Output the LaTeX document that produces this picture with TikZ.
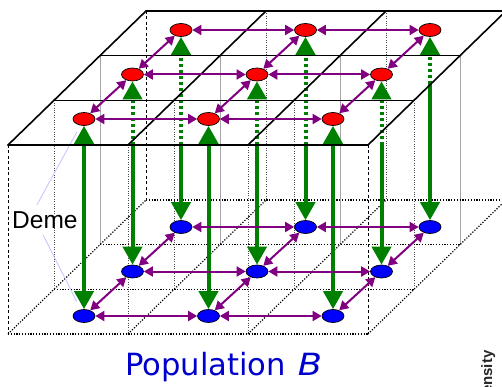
\documentclass[tikz,border=0pt]{standalone}
\usepackage{fontspec}
\usepackage{graphicx}
\setmainfont{DejaVu Sans}
\newfontfamily\demefont{Liberation Sans}
\usetikzlibrary{arrows.meta,shapes.geometric}
\pgfdeclarelayer{back}
\pgfsetlayers{back,main}
\definecolor{gr}{RGB}{0,128,0}
\definecolor{pu}{RGB}{128,0,128}
\definecolor{popblue}{RGB}{0,0,205}
\definecolor{demeline}{RGB}{195,195,255}
\begin{document}
\begin{tikzpicture}[x=1pt,y=-1pt,
 deme/.style={ellipse,draw=black,line width=0.7pt,minimum width=22pt,minimum height=13pt,inner sep=0pt},
 redn/.style={deme,fill=red},
 bluen/.style={deme,fill=blue},
 mig/.style={draw=pu,line width=2pt,>={Triangle[length=9pt,width=10pt]},<->},
 gsolid/.style={draw=gr,line width=4pt,>={Triangle[length=18pt,width=19pt]}},
 gdots/.style={draw=gr,line width=4pt,dash pattern=on 3pt off 3pt,>={Triangle[length=18pt,width=19pt]}},
 topgrid/.style={line width=1.6pt,black,line cap=round},
 botgrid/.style={line width=1.2pt,black,dash pattern=on 1.2pt off 1.6pt},
 vdash/.style={line width=0.8pt,black,dash pattern=on 3pt off 2.5pt},
 vdot/.style={line width=0.7pt,black!70,dash pattern=on 0.8pt off 1.6pt},
 vgray/.style={line width=0.8pt,black!35},
 demelink/.style={draw=demeline,line width=0.8pt},
]
\useasboundingbox (0,0) rectangle (502,387);

% grid corner coordinates
\foreach \r in {0,1,2,3}{
  \foreach \c in {0,1,2,3}{
    \coordinate (T\r\c) at ({8+120*\c+46*\r},{145-44.67*\r});
    \coordinate (B\r\c) at ({8+120*\c+46*\r},{334-44.67*\r});
  }
}
\coordinate (frontedge) at (0,145);
\coordinate (rightexit) at (0,84);

% demes
\foreach \r in {0,1,2}{
  \foreach \c in {0,1,2}{
    \node[redn] (t\r\c) at ({84+124.5*\c+48.5*\r},{119-44.5*\r}) {};
    \node[bluen] (b\r\c) at ({84+124.5*\c+48.5*\r},{316-44.5*\r}) {};
  }
}

% texts
\node[anchor=base west,inner sep=0pt,font=\demefont\fontsize{24.5}{28}\selectfont] (demelabel) at (12,228) {Deme};
\node[anchor=base west,inner sep=0pt,text=popblue,font=\fontsize{30.6}{36}\selectfont] (pop) at (125,375) {Population\hspace{12pt}\scalebox{1.15}[1]{\itshape B}};
\node[rotate=90,anchor=base west,inner sep=0pt,text=black!85,font=\demefont\bfseries\fontsize{15}{18}\selectfont] (dens) at (492,405) {Density};

\begin{pgfonlayer}{back}
% vertical edges
\draw[vdash] (T00) -- (B00);
\draw[vdash] (T03) -- (B03);
\draw[vdash] (T30) -- (B30);
\draw[vdash] (T33) -- (B33);
\foreach \c in {0,1,2,3}{ \draw[vgray] (T2\c) -- (B2\c); }
\foreach \c in {0,1,2,3}{ \draw[vdot] (T1\c) -- (B1\c); }
\foreach \c in {1,2}{ \draw[vdot] (T0\c) -- (B0\c); \draw[vdot] (T3\c) -- (B3\c); }

% bottom grid
\foreach \r in {0,1,2,3}{ \draw[botgrid] (B\r0) -- (B\r3); }
\foreach \c in {0,1,2,3}{ \draw[botgrid] (B0\c) -- (B3\c); }

% deme call-out lines
\draw[demelink,shorten >=7pt] ([xshift=-8pt,yshift=6pt]demelabel.north) -- (t00);
\draw[demelink,shorten >=9pt] ([xshift=-2pt,yshift=-6pt]demelabel.south) -- (b00);

% green exchange arrows
\foreach \c in {0,1,2}{ \draw[gsolid,<->] (t0\c) -- (b0\c); }
\foreach \r/\c in {1/0,1/1,1/2,2/0,2/1}{
  \draw[gdots,->] (t\r\c |- frontedge) -- (t\r\c);
  \draw[gsolid,->] (t\r\c |- frontedge) -- (b\r\c);
}
\draw[gdots,->] (t22 |- rightexit) -- (t22);
\draw[gsolid,->] (t22 |- rightexit) -- (b22);

% top grid
\foreach \r in {0,1,2,3}{ \draw[topgrid] (T\r0) -- (T\r3); }
\foreach \c in {0,1,2,3}{ \draw[topgrid] (T0\c) -- (T3\c); }

% migration arrows
\foreach \r in {0,1,2}{
  \foreach \c/\d in {0/1,1/2}{
    \draw[mig] (t\r\c) -- (t\r\d);
    \draw[mig] (b\r\c) -- (b\r\d);
  }
}
\foreach \r/\s in {0/1,1/2}{
  \foreach \c in {0,1,2}{
    \draw[mig] (t\r\c) -- (t\s\c);
    \draw[mig] (b\r\c) -- (b\s\c);
  }
}
\end{pgfonlayer}
\end{tikzpicture}
\end{document}
